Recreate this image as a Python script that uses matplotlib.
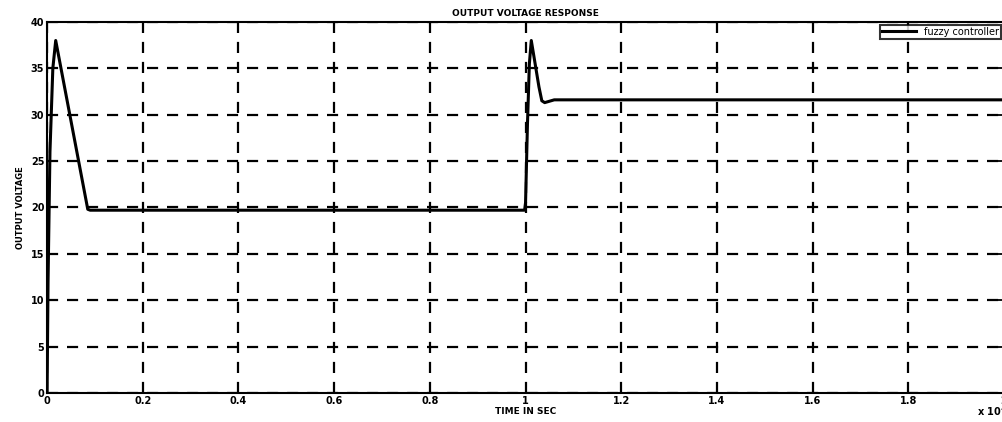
import matplotlib.pyplot as plt
import numpy as np

# data
time = [0, 0.002, 0.006, 0.012, 0.018, 0.085, 0.09, 0.3, 0.6, 0.9,
        0.998, 1.0, 1.004, 1.008, 1.012, 1.02, 1.028, 1.034, 1.04, 1.06, 1.3, 1.6, 2.0]
voltage = [0, 12, 26, 35, 38, 19.8, 19.7, 19.7, 19.7, 19.7,
           19.7, 20.5, 29, 35.5, 38, 35.5, 33, 31.5, 31.3, 31.6, 31.6, 31.6, 31.6]
xticks = [0, 0.2, 0.4, 0.6, 0.8, 1, 1.2, 1.4, 1.6, 1.8, 2]
xticklabels = ['0', '0.2', '0.4', '0.6', '0.8', '1', '1.2', '1.4', '1.6', '1.8', '2']
yticks = [0, 5, 10, 15, 20, 25, 30, 35, 40]

fig = plt.figure(figsize=(10.02, 4.22), dpi=100)
ax = fig.add_axes([0.047, 0.069, 0.955, 0.879])

ax.plot(time, voltage, color='black', linewidth=2.2, label='fuzzy controller')

ax.set_xlim(0, 2)
ax.set_ylim(0, 40)
ax.set_xticks(xticks)
ax.set_xticklabels(xticklabels, fontsize=7, fontweight='bold')
ax.set_yticks(yticks)
ax.set_yticklabels([str(v) for v in yticks], fontsize=7, fontweight='bold')
ax.tick_params(direction='in', length=5, width=1.3, top=True, right=True, pad=2)

ax.grid(True, color='black', linestyle=(0, (5, 4)), linewidth=1.6)
for s in ax.spines.values():
    s.set_linewidth(1.5)

ax.set_title('OUTPUT VOLTAGE RESPONSE', fontsize=6.5, fontweight='bold', pad=4)
ax.set_xlabel('TIME IN SEC', fontsize=6.5, fontweight='bold', labelpad=1)
ax.set_ylabel('OUTPUT VOLTAGE', fontsize=6, fontweight='bold', labelpad=4)

leg = ax.legend(loc='upper right', fontsize=7, frameon=True, fancybox=False,
                borderpad=0.2, handlelength=3.5, borderaxespad=0.3)
leg.get_frame().set_edgecolor('black')
leg.get_frame().set_linewidth(1.5)

fig.text(0.975, 0.015, 'x 10$^4$', fontsize=7, fontweight='bold')

fig.savefig('out.png', dpi=100)
